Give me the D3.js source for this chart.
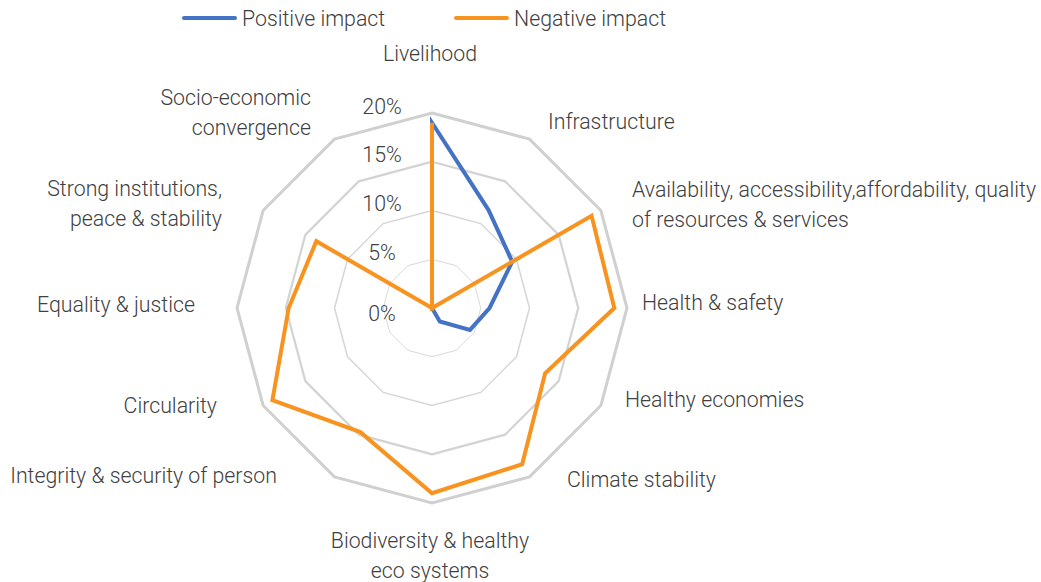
<!DOCTYPE html>
<html>
<head>
<meta charset="utf-8">
<script src="https://cdn.jsdelivr.net/npm/d3@7"></script>
<style>
  html, body { margin: 0; padding: 0; background: #ffffff; }
  svg { display: block; }
  text { font-family: Roboto, "Noto Sans", sans-serif; font-weight: 300; fill: #404040; }
</style>
</head>
<body>
<svg id="chart" width="1041" height="582"></svg>
<script>
// ---- data ----
const categories = [
  "Livelihood",
  "Infrastructure",
  "Availability, accessibility,affordability, quality\nof resources & services",
  "Health & safety",
  "Healthy economies",
  "Climate stability",
  "Biodiversity & healthy\neco systems",
  "Integrity & security of person",
  "Circularity",
  "Equality & justice",
  "Strong institutions,\npeace & stability",
  "Socio-economic\nconvergence"
];
const positiveImpact = [19.0, 11.6, 9.5, 5.9, 4.5, 1.6, 0, 0, 0, 0, 0, 0];
const negativeImpact = [19.0, 0, 18.9, 18.7, 13.4, 18.5, 19.0, 14.7, 18.9, 14.7, 13.7, 0];
const tickValues = [0, 5, 10, 15, 20];
const tickLabels = ["0%", "5%", "10%", "15%", "20%"];
const seriesNames = ["Positive impact", "Negative impact"];

// ---- layout ----
const cx = 432, cy = 308, R = 195;
const fontSize = 21.3;
const colors = ["#4472C4", "#F7931E"];
// label placement relative to chart centre: [dx, dy of block centre, anchor]
const labelLayout = [
  [-2, -255, "middle"],
  [116, -187, "start"],
  [200, -104, "start"],
  [210, -6, "start"],
  [193, 91, "start"],
  [135, 171, "start"],
  [-2, 247, "middle"],
  [-155, 167, "end"],
  [-215, 97, "end"],
  [-237, -4, "end"],
  [-210, -105, "end"],
  [-121, -196, "end"]
];
const lineH = 30;

const svg = d3.select("#chart");
const g = svg.append("g").attr("transform", `translate(${cx},${cy})`);

const n = categories.length;
const angle = d3.scaleLinear().domain([0, n]).range([0, 2 * Math.PI]);
const r = d3.scaleLinear().domain([0, 20]).range([0, R]);

const radial = d3.lineRadial()
  .angle((d, i) => angle(i))
  .radius(d => r(d))
  .curve(d3.curveLinearClosed);

// grid rings
const ringStyle = {5: [1, "#d9d9d9"], 10: [1.5, "#d6d6d6"], 15: [2.2, "#d3d3d3"], 20: [3, "#d0d0d0"]};
tickValues.filter(v => v > 0).forEach(v => {
  g.append("path")
    .attr("d", radial(d3.range(n).map(() => v)))
    .attr("fill", "none")
    .attr("stroke", ringStyle[v][1])
    .attr("stroke-width", ringStyle[v][0]);
});

// tick labels
g.selectAll(".tick")
  .data(tickValues)
  .join("text")
  .attr("x", -50)
  .attr("y", d => -r(d) + (d === 0 ? 5 : -7))
  .attr("text-anchor", "middle")
  .attr("dominant-baseline", "central")
  .attr("font-size", fontSize)
  .text((d, i) => tickLabels[i]);

// series
[positiveImpact, negativeImpact].forEach((vals, k) => {
  g.append("path")
    .attr("d", radial(vals))
    .attr("fill", "none")
    .attr("stroke", colors[k])
    .attr("stroke-width", 4)
    .attr("stroke-linejoin", "miter")
    .attr("stroke-linecap", "round");
});

// category labels
categories.forEach((c, i) => {
  const [dx, dy, anchor] = labelLayout[i];
  const lines = c.split("\n");
  const t = g.append("text")
    .attr("text-anchor", anchor)
    .attr("font-size", fontSize);
  lines.forEach((ln, j) => {
    t.append("tspan")
      .attr("x", dx)
      .attr("y", dy + (j - (lines.length - 1) / 2) * lineH)
      .attr("dominant-baseline", "central")
      .text(ln);
  });
});

// legend
const legend = svg.append("g");
const legendX = [183, 455];
seriesNames.forEach((s, k) => {
  const lg = legend.append("g").attr("transform", `translate(${legendX[k]},18)`);
  lg.append("line")
    .attr("x1", 1).attr("x2", 52).attr("y1", 0).attr("y2", 0)
    .attr("stroke", colors[k]).attr("stroke-width", 4).attr("stroke-linecap", "round");
  lg.append("text")
    .attr("x", 59).attr("y", 0)
    .attr("dominant-baseline", "central")
    .attr("font-size", fontSize)
    .text(s);
});
</script>
</body>
</html>
